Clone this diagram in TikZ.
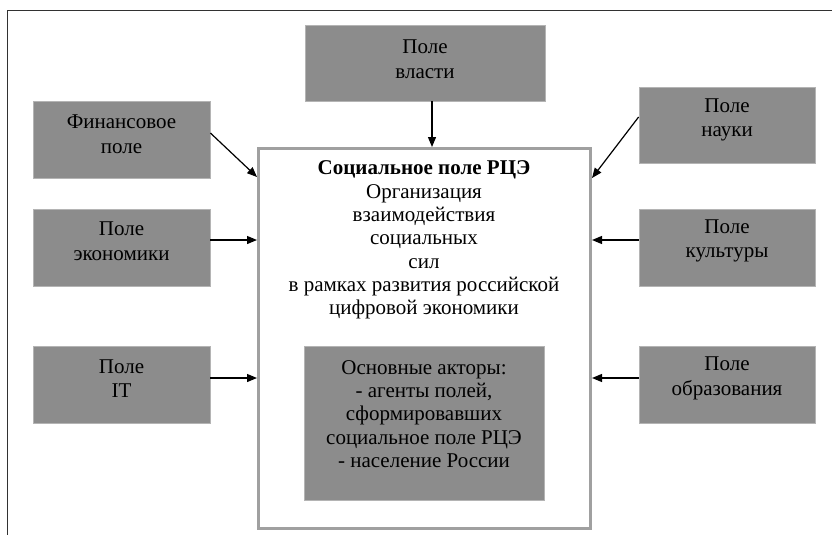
\documentclass[tikz,border=0pt]{standalone}
\usepackage{fontspec}
\setmainfont{Liberation Serif}
\usetikzlibrary{arrows.meta}
\definecolor{boxfill}{RGB}{140,140,140}
\definecolor{boxline}{RGB}{180,180,180}
\definecolor{mainline}{RGB}{160,160,160}
\definecolor{frameline}{RGB}{50,50,50}
\tikzset{
  fbox/.style={rectangle, fill=boxfill, draw=boxline, line width=0.8pt, inner sep=0pt},
  mainbox/.style={rectangle, fill=white, draw=mainline, line width=3pt, inner sep=0pt},
  lbl/.style={align=center, inner sep=0pt, font=\fontsize{21pt}{24.5pt}\selectfont},
  mlbl/.style={align=center, inner sep=0pt, font=\fontsize{21pt}{23.3pt}\selectfont},
  arr/.style={-{Triangle[length=10pt,width=8pt]}, line width=1.2pt, black},
}
\begin{document}
\begin{tikzpicture}[x=1pt,y=-1pt]
\useasboundingbox[fill=white] (0,0) rectangle (832,535);
\draw[frameline, line width=1.5pt] (832,10.5) -- (7.5,10.5) -- (7.5,535);

% main box
\node[mainbox, minimum width=332pt, minimum height=380pt] (main) at (424.5,338.5) {};
\node[mlbl] (maintxt) at (424,240) {\textbf{Социальное поле РЦЭ}\\Организация\\взаимодействия\\социальных\\сил\\в рамках развития российской\\цифровой экономики};
\node[fbox, minimum width=240pt, minimum height=154pt] (actors) at (424,423) {};
\node[mlbl] (actorstxt) at (424,414) {Основные акторы:\\- агенты полей,\\сформировавших\\социальное поле РЦЭ\\- население России};

% top
\node[fbox, minimum width=240pt, minimum height=76pt] (vlast) at (425,63) {};
\node[lbl] (vlasttxt) at (425,59) {Поле\\власти};

% left
\node[fbox, minimum width=177pt, minimum height=77pt] (fin) at (121.5,139.5) {};
\node[lbl] (fintxt) at (121.5,134) {Финансовое\\поле};
\node[fbox, minimum width=177pt, minimum height=77pt] (ek) at (121.5,247.5) {};
\node[lbl] (ektxt) at (121.5,241) {Поле\\экономики};
\node[fbox, minimum width=177pt, minimum height=77pt] (it) at (121.5,384.5) {};
\node[lbl] (ittxt) at (121.5,378.5) {Поле\\IT};

% right
\node[fbox, minimum width=176pt, minimum height=76pt] (nauka) at (727,125) {};
\node[lbl] (naukatxt) at (727,120) {Поле\\науки};
\node[fbox, minimum width=176pt, minimum height=77pt] (kult) at (727,247.5) {};
\node[lbl] (kulttxt) at (727,241) {Поле\\культуры};
\node[fbox, minimum width=176pt, minimum height=77pt] (obr) at (727,384.5) {};
\node[lbl] (obrtxt) at (727,378.5) {Поле\\образования};

% connector anchors
\coordinate (vA) at ([xshift=7pt]vlast.south);
\coordinate (finA) at ([yshift=6.5pt]fin.east);
\coordinate (finB) at ([yshift=-30pt]main.north west);
\coordinate (nA) at ([yshift=8pt]nauka.west);
\coordinate (nB) at ([yshift=-31pt]main.north east);
\coordinate (ekA) at ([yshift=7.5pt]ek.east);
\coordinate (itA) at ([yshift=6.5pt]it.east);
\coordinate (kA) at ([yshift=7.5pt]kult.west);
\coordinate (oA) at ([yshift=6.5pt]obr.west);

\draw[arr] (vA) -- (vA |- main.north);
\draw[arr] (finA) -- (finB);
\draw[arr] (nA) -- (nB);
\draw[arr] (ekA) -- (ekA -| main.west);
\draw[arr] (itA) -- (itA -| main.west);
\draw[arr] (kA) -- (kA -| main.east);
\draw[arr] (oA) -- (oA -| main.east);
\end{tikzpicture}
\end{document}
